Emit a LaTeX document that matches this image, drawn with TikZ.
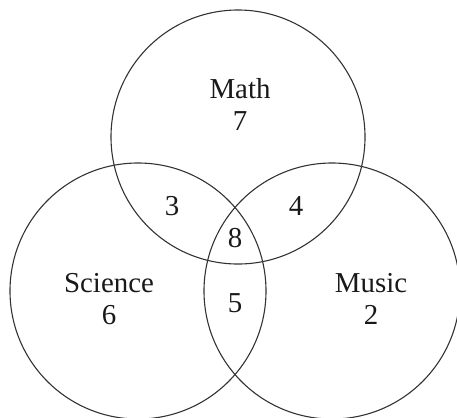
\documentclass[tikz,border=0pt]{standalone}
\usepackage{fontspec}
\setmainfont{Liberation Serif}
\begin{document}
\begin{tikzpicture}[x=1bp,y=-1bp,
  setring/.style={draw=black!80,line width=1.1bp},
  lbl/.style={anchor=base,inner sep=0pt,font=\fontsize{29}{34}\selectfont,text=black!90}]
\useasboundingbox (0,0) rectangle (457,417);
\clip (0,0) rectangle (457,417);
\coordinate (cm) at (238,137);
\coordinate (cs) at (138,291);
\coordinate (cu) at (332,291);
\draw[setring] (cm) circle[radius=127bp];
\draw[setring] (cs) circle[radius=128bp];
\draw[setring] (cu) circle[radius=128bp];
\node[lbl] (math) at (240,98) {Math};
\node[lbl] (m7) at (240,130) {7};
\node[lbl] (sci) at (109,292) {Science};
\node[lbl] (s6) at (109,324) {6};
\node[lbl] (mus) at (371,292) {Music};
\node[lbl] (u2) at (371,324) {2};
\node[lbl] (ms) at (172,215) {3};
\node[lbl] (mu) at (296,215) {4};
\node[lbl] (all) at (235,247) {8};
\node[lbl] (su) at (235,312) {5};
\end{tikzpicture}
\end{document}
